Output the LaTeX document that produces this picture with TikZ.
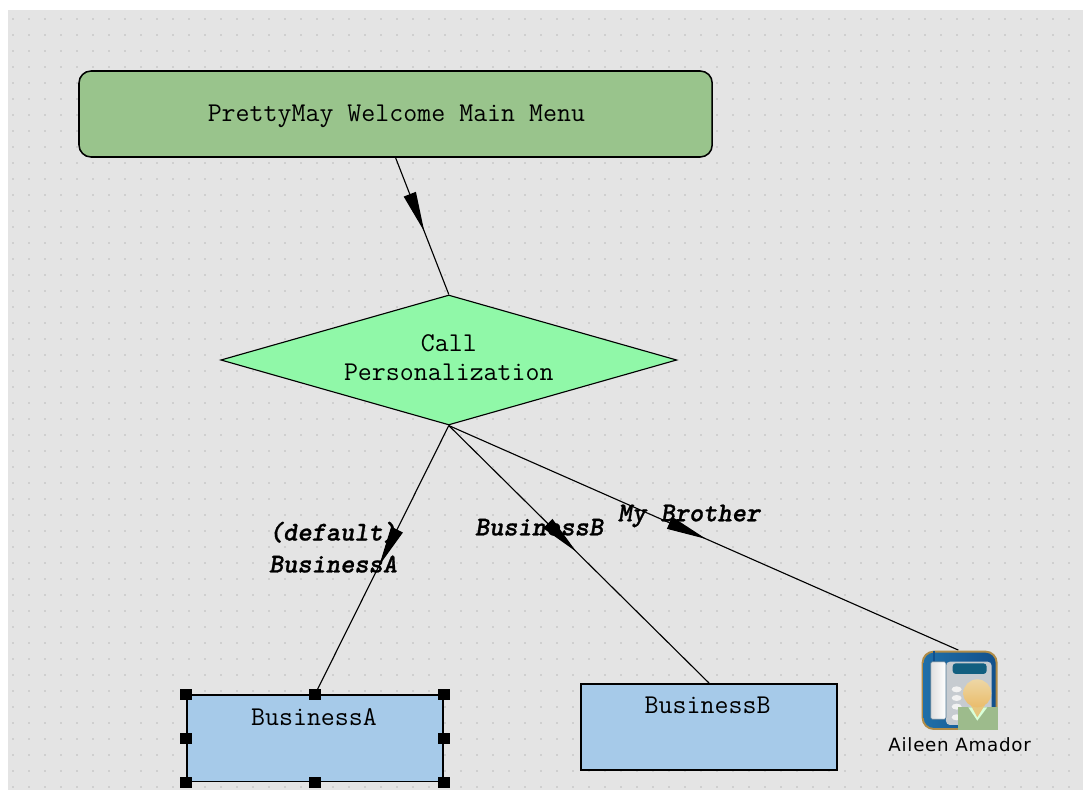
\documentclass[tikz,border=0pt]{standalone}
\usepackage{fontspec}
\newfontfamily\phonefont[LetterSpace=4]{DejaVu Sans}
\newfontfamily\linkfont[FakeBold=1]{lmmonolt10-boldoblique.otf}
\usetikzlibrary{shapes.geometric, arrows.meta, decorations.markings}

\definecolor{canvasgrey}{HTML}{E4E4E4}
\definecolor{dotgrey}{HTML}{CFCFCF}
\definecolor{menugreen}{HTML}{99C48C}
\definecolor{decisiongreen}{HTML}{90F8A8}
\definecolor{boxblue}{HTML}{A6CAE9}
\definecolor{phonerim}{HTML}{B08C48}
\definecolor{phoneblue}{HTML}{1F6FA8}
\definecolor{phonedark}{HTML}{12508C}
\definecolor{phonebody}{HTML}{C6CBD0}
\definecolor{phonescreen}{HTML}{125F80}
\definecolor{persongreen}{HTML}{9DBB8C}
\definecolor{persontan}{HTML}{E6C67E}

\tikzset{
	menubox/.style={draw, line width=1.1pt, fill=menugreen, rounded corners=0.3cm, minimum width=15.83cm, minimum height=2.15cm},
	decisionbox/.style={draw, line width=0.8pt, fill=decisiongreen, diamond, aspect=3.5, inner sep=0pt, minimum width=11.4cm, minimum height=3.25cm},
	targetbox/.style={draw, line width=1.1pt, fill=boxblue, minimum width=6.4cm, minimum height=2.16cm},
	handle/.style={fill=black, inner sep=0pt, minimum size=0.29cm},
	monotext/.style={align=center, font=\ttfamily\fontsize{19.3}{21.3}\selectfont},
	linklabel/.style={align=center, font=\linkfont\fontsize{19.3}{22.7}\selectfont},
	link/.style={line width=0.8pt, postaction={decorate}, decoration={markings, mark=at position #1 with {\arrow{Triangle[length=1cm, width=0.32cm]}}}},
}

\begin{document}
\begin{tikzpicture}
	\useasboundingbox (0, 0) rectangle (27.075, -19.75);
	\fill[canvasgrey] (0.2, -0.25) rectangle (27.075, -19.75);
	\foreach \i in {0, ..., 66}
		\foreach \j in {0, ..., 48}
			\fill[dotgrey] (0.305 + 0.4*\i, -0.455 - 0.4*\j) rectangle +(0.04, -0.04);

	\node[menubox] (menu) at (9.89, -2.85) {};
	\node[decisionbox] (decision) at (11.22, -9) {};
	\node[targetbox] (bizA) at (7.875, -18.46) {};
	\node[targetbox] (bizB) at (17.725, -18.175) {};
	\node[monotext] (menutext) at (9.91, -2.92) {PrettyMay Welcome Main Menu};
	\node[monotext] (decisiontext) at (11.22, -8.94) {Call\\Personalization};
	\node[monotext] (bizAtext) at (7.85, -17.925) {BusinessA};
	\node[monotext] (bizBtext) at (17.69, -17.625) {BusinessB};
	\node[minimum width=1.9cm, minimum height=1.98cm] (phone) at (23.96, -17.25) {};
	\node[font=\phonefont\fontsize{13}{15}\selectfont] (phonetext) at (23.99, -18.62) {Aileen Amador};

	\foreach \a in {north west, north, north east, west, east, south west, south, south east}
		\node[handle] (handle \a) at (bizA.\a) {};

	\draw[link=0.54] (menu.south) -- (decision.north);
	\draw[link=0.52] (decision.south) -- (bizA.north);
	\draw[link=0.49] (decision.south) -- (bizB.north);
	\draw[link=0.505] (decision.south) -- (phone.north);

	\node[linklabel] (labelA) at (8.325, -13.68) {(default)\\BusinessA};
	\node[linklabel] (labelB) at (13.475, -13.18) {BusinessB};
	\node[linklabel] (labelC) at (17.225, -12.9) {My Brother};

	\begin{scope}[shift={(21.5, -15.75)}, x=0.00833cm, y=-0.00833cm]
		\fill[rounded corners=0.3cm, fill=phonerim] (185, 62) rectangle (413, 300);
		\shade[rounded corners=0.26cm, left color=phoneblue, right color=phonedark] (191, 68) rectangle (407, 294);
		\fill[rounded corners=0.1cm, fill=phonebody] (258, 95) rectangle (395, 285);
		\fill[phonedark] (218, 62) rectangle (226, 95);
		\shade[rounded corners=0.05cm, draw=phoneblue!50!gray, line width=0.5pt, left color=gray!25, right color=white] (212, 95) rectangle (258, 268);
		\fill[rounded corners=0.08cm, fill=phonescreen] (278, 100) rectangle (380, 132);
		\foreach \y in {178, 204, 230, 262}
			\fill[white!90!gray] (290, \y) ellipse (15 and 9);
		\fill[persongreen] (295, 232) -- (413, 232) -- (413, 300) -- (295, 300) -- cycle;
		\fill[white!85!green] (325, 232) -- (352, 272) -- (382, 232) -- cycle;
		\fill[persontan] (332, 225) -- (352, 262) -- (375, 225) -- cycle;
		\shade[top color=persontan!70!white, bottom color=persontan!85!orange] (352, 190) circle (42);
	\end{scope}
\end{tikzpicture}
\end{document}
